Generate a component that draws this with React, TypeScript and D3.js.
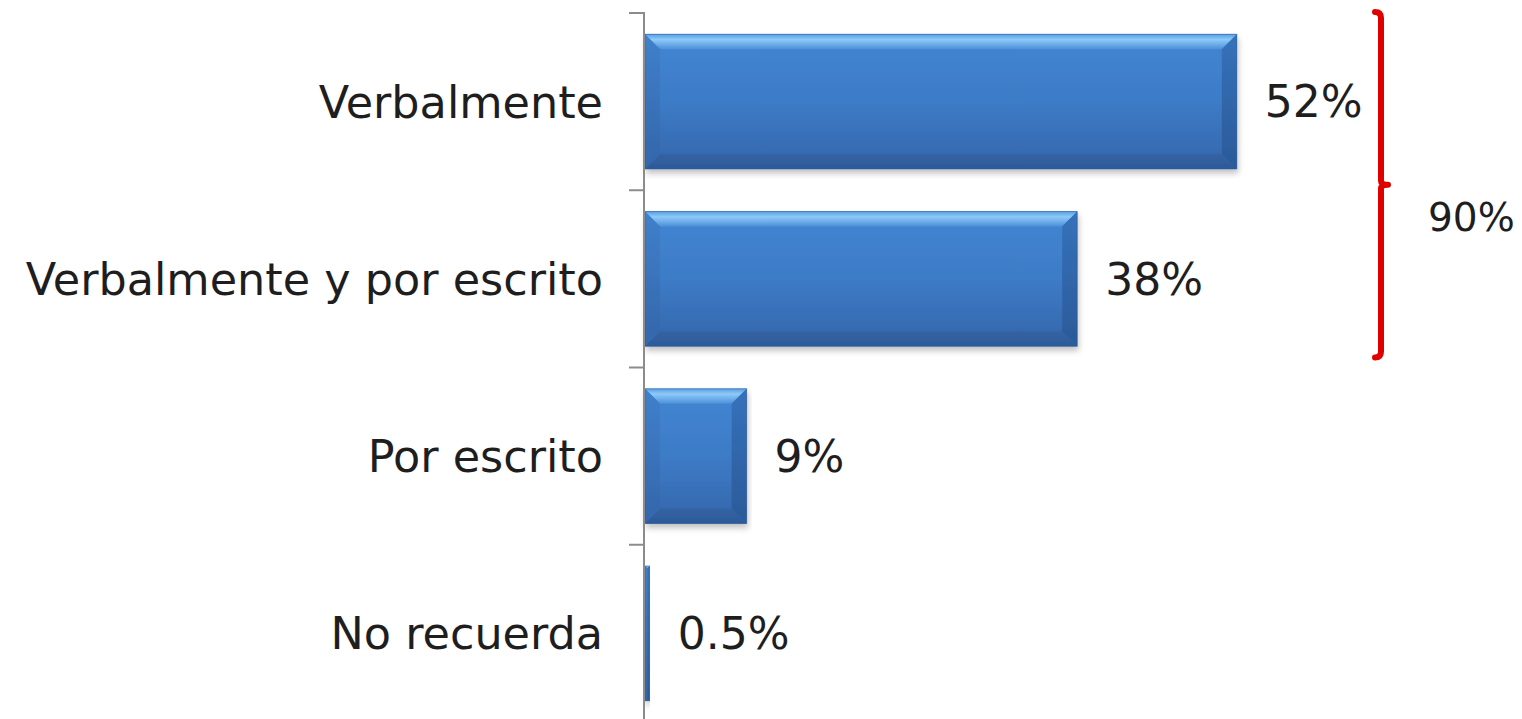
import React from "react";
import * as d3 from "d3";

const categories = ["Verbalmente", "Verbalmente y por escrito", "Por escrito", "No recuerda"];
const values = [52, 38, 9, 0.5];
const valueLabels = ["52%", "38%", "9%", "0.5%"];
const bracketLabel = "90%";
const bracketGroup = ["Verbalmente", "Verbalmente y por escrito"];

const W = 1522;
const H = 719;
const FONT = "'DejaVu Sans', Verdana, sans-serif";

export default function App() {
  const axisX = 644;
  const x = d3.scaleLinear().domain([0, 60]).range([axisX, axisX + 60 * 11.4]);
  const y = d3.scaleBand<string>().domain(categories).range([13, 722]).paddingInner(0.24).paddingOuter(0.12);
  const yTicks = d3.scaleBand<string>().domain(categories).range([13, 722]);
  const bw = y.bandwidth();

  const bars = categories.map((c, i) => {
    const x0 = x(0) + 1;
    const x1 = x(values[i]);
    const y0 = y(c)!;
    const y1 = y0 + bw;
    const b = Math.min(15, (x1 - x0) / 2, bw / 2);
    return { c, i, x0, x1, y0, y1, b };
  });

  const bTop = yTicks(bracketGroup[0])! - 1;
  const bBot = yTicks(bracketGroup[1])! + yTicks.bandwidth() - 10;
  const bx = 1381;
  const bMid = (bTop + bBot) / 2;

  const bracketPath = d3.path();
  bracketPath.moveTo(bx - 6, bTop);
  bracketPath.quadraticCurveTo(bx, bTop, bx, bTop + 6);
  bracketPath.lineTo(bx, bMid - 4);
  bracketPath.quadraticCurveTo(bx, bMid, bx + 7, bMid);
  bracketPath.quadraticCurveTo(bx, bMid, bx, bMid + 4);
  bracketPath.lineTo(bx, bBot - 6);
  bracketPath.quadraticCurveTo(bx, bBot, bx - 6, bBot);

  return (
    <svg width={W} height={H} style={{ position: "absolute", left: 0, top: 0, background: "#fff" }} fontFamily={FONT}>
      <defs>
        <linearGradient id="face" x1="0" y1="0" x2="0" y2="1">
          <stop offset="0" stopColor="#4286d3" />
          <stop offset="0.5" stopColor="#3d7bc6" />
          <stop offset="1" stopColor="#3466ab" />
        </linearGradient>
        <linearGradient id="topB" x1="0" y1="0" x2="0" y2="1">
          <stop offset="0" stopColor="#5a9ee4" />
          <stop offset="0.35" stopColor="#8ccaf8" />
          <stop offset="1" stopColor="#4d8fd9" />
        </linearGradient>
        <linearGradient id="botB" x1="0" y1="0" x2="0" y2="1">
          <stop offset="0" stopColor="#3463a3" />
          <stop offset="1" stopColor="#2d5a98" />
        </linearGradient>
        <linearGradient id="leftB" x1="0" y1="0" x2="0" y2="1">
          <stop offset="0" stopColor="#4080cb" />
          <stop offset="1" stopColor="#3466aa" />
        </linearGradient>
        <linearGradient id="rightB" x1="0" y1="0" x2="0" y2="1">
          <stop offset="0" stopColor="#3672bb" />
          <stop offset="1" stopColor="#2b5a99" />
        </linearGradient>
        <filter id="shadow" x="-5%" y="-10%" width="110%" height="130%">
          <feGaussianBlur in="SourceAlpha" stdDeviation="3" />
          <feOffset dx="1" dy="4" result="ob" />
          <feComponentTransfer>
            <feFuncA type="linear" slope="0.25" />
          </feComponentTransfer>
          <feMerge>
            <feMergeNode />
            <feMergeNode in="SourceGraphic" />
          </feMerge>
        </filter>
      </defs>

      {bars.map(({ c, x0, x1, y0, y1, b }) => (
        <g key={c} filter="url(#shadow)">
          <rect x={x0} y={y0} width={x1 - x0} height={y1 - y0} fill="url(#face)" />
          <polygon points={`${x0},${y0} ${x1},${y0} ${x1 - b},${y0 + b} ${x0 + b},${y0 + b}`} fill="url(#topB)" />
          <polygon points={`${x0},${y1} ${x1},${y1} ${x1 - b},${y1 - b} ${x0 + b},${y1 - b}`} fill="url(#botB)" />
          <polygon points={`${x0},${y0} ${x0 + b},${y0 + b} ${x0 + b},${y1 - b} ${x0},${y1}`} fill="url(#leftB)" />
          <polygon points={`${x1},${y0} ${x1 - b},${y0 + b} ${x1 - b},${y1 - b} ${x1},${y1}`} fill="url(#rightB)" />
          <rect x={x0} y={y0} width={x1 - x0} height={y1 - y0} fill="none" stroke="#2f5d9c" strokeOpacity={0.6} strokeWidth={1} />
        </g>
      ))}

      <line x1={axisX} x2={axisX} y1={12} y2={H} stroke="#8c8c8c" strokeWidth={2} />
      {categories.concat(["__end"]).map((c, i) => {
        const ty = i < categories.length ? yTicks(c)! : yTicks.range()[1];
        return <line key={c} x1={axisX - 15} x2={axisX} y1={ty} y2={ty} stroke="#8c8c8c" strokeWidth={2} />;
      })}

      {categories.map((c) => (
        <text key={c} x={603} y={yTicks(c)! + yTicks.bandwidth() / 2} dy="0.36em" textAnchor="end" fontSize={44.5} fill="#1e1e1e">
          {c}
        </text>
      ))}

      {bars.map(({ c, i, x1, y0, y1 }) => (
        <text key={c} x={x1 + 28} y={(y0 + y1) / 2} dy="0.36em" fontSize={44} fill="#1e1e1e">
          {valueLabels[i]}
        </text>
      ))}

      <path d={bracketPath.toString()} fill="none" stroke="#e00000" strokeWidth={6} strokeLinecap="round" strokeLinejoin="round" />
      <text x={1428} y={bMid + 32} dy="0.36em" fontSize={39} fill="#1e1e1e">
        {bracketLabel}
      </text>
    </svg>
  );
}
